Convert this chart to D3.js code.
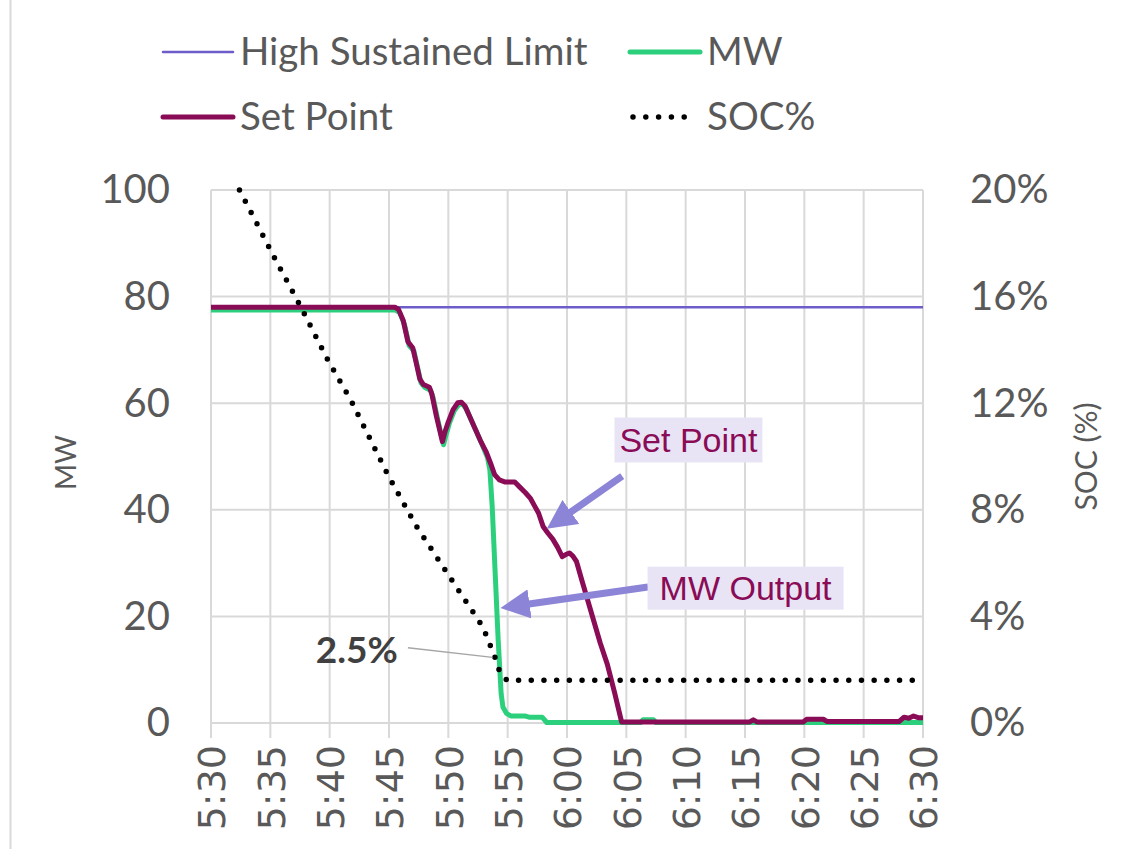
<!DOCTYPE html>
<html>
<head>
<meta charset="utf-8">
<script src="https://cdn.jsdelivr.net/npm/d3@7"></script>
<style>
  html, body { margin: 0; padding: 0; background: #fff; }
  svg { display: block; }
</style>
</head>
<body>
<svg id="chart" width="1127" height="849"></svg>
<script>
// ---- data ----
const xTickLabels = ["5:30","5:35","5:40","5:45","5:50","5:55","6:00","6:05","6:10","6:15","6:20","6:25","6:30"];
const mwTicks = [0, 20, 40, 60, 80, 100];
const socTicks = [0, 4, 8, 12, 16, 20];

const highSustainedLimitTime = ["5:30:00", "6:30:00"];
const highSustainedLimitMW = [78, 78];

const setPointTime = ["5:30:00","5:45:30","5:45:48","5:46:12","5:46:36","5:47:00","5:47:18","5:47:36","5:47:54","5:48:24",
  "5:48:36","5:49:00","5:49:30","5:49:42","5:50:00","5:50:24","5:50:48","5:51:06","5:51:24","5:51:48",
  "5:52:12","5:52:42","5:53:12","5:53:36","5:53:54","5:54:18","5:54:48","5:55:36","5:56:00","5:56:30",
  "5:56:54","5:57:18","5:57:36","5:58:00","5:58:24","5:58:48","5:59:12","5:59:36","5:59:54","6:00:12",
  "6:00:30","6:00:48","6:01:18","6:01:48","6:02:18","6:02:48","6:03:24","6:04:00","6:04:36","6:15:24",
  "6:15:42","6:16:00","6:19:54","6:20:12","6:21:36","6:21:54","6:28:00","6:28:24","6:28:48","6:29:12",
  "6:29:36","6:30:00"];
const setPointMW = [78.0,78.0,77.6,75.5,71.5,70.4,67.5,64.5,63.5,63.0,
  61.8,57.5,52.8,54.5,56.5,58.8,60.1,60.2,59.5,57.5,
  55.5,53.0,50.8,48.5,46.6,45.6,45.2,45.2,44.3,43.2,
  42.2,40.6,39.4,36.8,35.6,34.5,33.0,31.2,31.6,31.9,
  31.3,30.3,26.4,22.6,18.8,15.0,11.0,5.8,0.2,0.2,
  0.6,0.2,0.2,0.7,0.7,0.3,0.3,1.1,0.9,1.3,
  1.0,1.0];

const outputTime = ["5:30:00","5:45:30","5:45:54","5:46:18","5:46:42","5:47:06","5:47:24","5:47:42","5:48:00","5:48:30",
  "5:48:42","5:49:06","5:49:36","5:49:48","5:50:06","5:50:30","5:50:54","5:51:12","5:51:30","5:51:54",
  "5:52:18","5:52:48","5:53:18","5:53:30","5:53:42","5:53:57","5:54:12","5:54:27","5:54:36","5:54:54",
  "5:55:18","5:56:30","5:56:48","5:57:54","5:58:18","6:06:12","6:06:24","6:07:18","6:07:30","6:30:00"];
const outputMW = [77.5,77.5,77.0,74.8,70.8,69.8,66.8,63.8,63.0,62.4,
  61.2,57.0,52.2,54.0,56.3,58.6,59.8,59.8,59.0,57.0,
  55.0,52.5,49.8,47.5,40.5,28.0,15.6,5.5,3.0,1.8,
  1.3,1.3,1.1,1.1,0.1,0.1,0.6,0.6,0.1,0.1];

const socTime = ["5:32:24","5:35:18","5:37:35","5:39:52","5:41:48","5:44:55","5:47:17","5:50:23","5:52:55","5:53:54",
  "5:54:21","5:54:56","6:30:00"];
const socPct = [20.0,17.5,15.6,13.6,12.1,9.3,7.4,5.3,3.6,2.5,
  1.9,1.6,1.6];

// ---- layout ----
const parseTime = d3.timeParse("%H:%M:%S");
const plot = { left: 211, right: 923, top: 190, bottom: 723 };

const x = d3.scaleTime()
  .domain([parseTime("5:30:00"), parseTime("6:30:00")])
  .range([plot.left, plot.right]);
const y = d3.scaleLinear().domain([0, 100]).range([plot.bottom, plot.top]);
const ySoc = d3.scaleLinear().domain([0, 20]).range([plot.bottom, plot.top]);

const colors = {
  limit: "#6C5DCB",
  output: "#2CD07C",
  setPoint: "#8A0B56",
  soc: "#000000",
  grid: "#D9D9D9",
  text: "#595959",
  callout: "#8C84D6",
  calloutFill: "#E8E4F5"
};

const svg = d3.select("#chart");
const font = "Lato, 'Open Sans', sans-serif";
const arial = "'Liberation Sans', Arial, sans-serif";

// outer frame edge
svg.append("line")
  .attr("x1", 10.5).attr("x2", 10.5).attr("y1", 0).attr("y2", 849)
  .attr("stroke", colors.grid).attr("stroke-width", 2);

// ---- gridlines ----
const xTickValues = xTickLabels.map(s => parseTime(s + ":00"));

svg.append("g")
  .selectAll("line")
  .data(mwTicks)
  .join("line")
  .attr("x1", plot.left).attr("x2", plot.right)
  .attr("y1", d => y(d)).attr("y2", d => y(d))
  .attr("stroke", colors.grid).attr("stroke-width", 2);

svg.append("g")
  .selectAll("line")
  .data(xTickValues)
  .join("line")
  .attr("x1", d => x(d)).attr("x2", d => x(d))
  .attr("y1", plot.top).attr("y2", plot.bottom + 15)
  .attr("stroke", colors.grid).attr("stroke-width", 2);

// ---- axes (labels only) ----
const xAxis = d3.axisBottom(x)
  .tickValues(xTickValues)
  .tickFormat((d, i) => xTickLabels[i])
  .tickSize(0);
const gx = svg.append("g")
  .attr("transform", `translate(0,${plot.bottom + 22})`)
  .call(xAxis);
gx.select(".domain").remove();
gx.selectAll("text")
  .attr("transform", "rotate(-90)")
  .attr("x", 0).attr("y", 0).attr("dy", "0.36em")
  .attr("text-anchor", "end")
  .attr("fill", colors.text)
  .style("font-family", "'DejaVu Sans', sans-serif").style("font-size", "38px");

const yAxis = d3.axisLeft(y).tickValues(mwTicks).tickSize(0).tickPadding(0);
const gy = svg.append("g")
  .attr("transform", `translate(${plot.left - 41},0)`)
  .call(yAxis);
gy.select(".domain").remove();
gy.selectAll("text")
  .attr("fill", colors.text)
  .style("font-family", font).style("font-size", "40px");

const ySocAxis = d3.axisRight(ySoc).tickValues(socTicks).tickSize(0).tickPadding(0)
  .tickFormat(d => d + "%");
const gys = svg.append("g")
  .attr("transform", `translate(${plot.right + 47},0)`)
  .call(ySocAxis);
gys.select(".domain").remove();
gys.selectAll("text")
  .attr("fill", colors.text)
  .style("font-family", font).style("font-size", "40px");

// axis titles
svg.append("text")
  .attr("transform", `translate(66,${(plot.top + plot.bottom) / 2 + 6}) rotate(-90)`)
  .attr("text-anchor", "middle").attr("dy", "0.35em")
  .attr("fill", colors.text)
  .style("font-family", font).style("font-size", "28px")
  .text("MW");

svg.append("text")
  .attr("transform", `translate(1086,${(plot.top + plot.bottom) / 2}) rotate(-90)`)
  .attr("text-anchor", "middle").attr("dy", "0.35em")
  .attr("fill", colors.text)
  .style("font-family", font).style("font-size", "30px")
  .text("SOC (%)");

// ---- series ----
const zip = (ts, vs) => ts.map((t, i) => ({ t: parseTime(t), v: vs[i] }));
const lineMW = d3.line().x(d => x(d.t)).y(d => y(d.v));
const lineSoc = d3.line().x(d => x(d.t)).y(d => ySoc(d.v));

svg.append("path")
  .datum(zip(highSustainedLimitTime, highSustainedLimitMW))
  .attr("d", lineMW)
  .attr("fill", "none").attr("stroke", colors.limit).attr("stroke-width", 2.5);

svg.append("path")
  .datum(zip(outputTime, outputMW))
  .attr("d", lineMW)
  .attr("fill", "none").attr("stroke", colors.output).attr("stroke-width", 5)
  .attr("stroke-linejoin", "round");

svg.append("path")
  .datum(zip(setPointTime, setPointMW))
  .attr("d", lineMW)
  .attr("fill", "none").attr("stroke", colors.setPoint).attr("stroke-width", 5)
  .attr("stroke-linejoin", "round");

const socData = zip(socTime, socPct);
svg.append("path")
  .datum(socData)
  .attr("d", lineSoc)
  .attr("fill", "none").attr("stroke", colors.soc).attr("stroke-width", 5.5)
  .attr("stroke-linecap", "round").attr("stroke-dasharray", "0 12.7");

// ---- annotations ----
// 2.5% SOC marker
const socMark = socData.find(d => d.v === 2.5);
const markX = x(socMark.t), markY = ySoc(socMark.v);
const labelAt = { t: parseTime("5:45:45"), v: 13.0 };
svg.append("line")
  .attr("x1", x(labelAt.t) + 10).attr("y1", y(labelAt.v) - 6)
  .attr("x2", markX - 2).attr("y2", markY + 1)
  .attr("stroke", "#A6A6A6").attr("stroke-width", 1.5);
svg.append("text")
  .attr("x", x(labelAt.t)).attr("y", y(labelAt.v) + 9)
  .attr("text-anchor", "end")
  .attr("fill", "#404040")
  .style("font-family", font).style("font-size", "37px").style("font-weight", "bold")
  .text(socMark.v + "%");

// arrow callouts
const defs = svg.append("defs");
defs.append("marker")
  .attr("id", "arrowHead")
  .attr("viewBox", "0 0 10 10")
  .attr("refX", 2).attr("refY", 5)
  .attr("markerWidth", 4.2).attr("markerHeight", 4.2)
  .attr("markerUnits", "strokeWidth")
  .attr("orient", "auto")
  .append("path").attr("d", "M0,0 L10,5 L0,10 Z").attr("fill", colors.callout);

function callout(label, center, boxW, boxH, from, to) {
  const cx = x(center.t), cy = y(center.v);
  const x1 = x(from.t), y1 = y(from.v);
  const x2 = x(to.t), y2 = y(to.v);
  // shorten the shaft so the arrow head tip lands on the target
  const len = Math.hypot(x2 - x1, y2 - y1);
  const back = 22;
  svg.append("line")
    .attr("x1", x1).attr("y1", y1)
    .attr("x2", x2 - (x2 - x1) / len * back).attr("y2", y2 - (y2 - y1) / len * back)
    .attr("stroke", colors.callout).attr("stroke-width", 7)
    .attr("marker-end", "url(#arrowHead)");
  svg.append("rect")
    .attr("x", cx - boxW / 2).attr("y", cy - boxH / 2)
    .attr("width", boxW).attr("height", boxH)
    .attr("fill", colors.calloutFill);
  svg.append("text")
    .attr("x", cx).attr("y", cy).attr("dy", "0.36em")
    .attr("text-anchor", "middle")
    .attr("fill", colors.setPoint)
    .style("font-family", arial).style("font-size", "34px")
    .text(label);
}

callout("Set Point",
  { t: parseTime("6:10:14"), v: 53.1 }, 148, 45,
  { t: parseTime("6:04:39"), v: 46.3 }, { t: parseTime("5:58:24"), v: 36.6 });
callout("MW Output",
  { t: parseTime("6:15:03"), v: 25.3 }, 196, 43,
  { t: parseTime("6:06:50"), v: 25.5 }, { t: parseTime("5:54:31"), v: 21.6 });

// ---- legend ----
const legendItems = [
  { label: "High Sustained Limit", color: colors.limit, width: 2.5, dots: false, x: 163, y: 52 },
  { label: "MW", color: colors.output, width: 5, dots: false, x: 630, y: 52 },
  { label: "Set Point", color: colors.setPoint, width: 5, dots: false, x: 163, y: 117 },
  { label: "SOC%", color: colors.soc, width: 5.5, dots: true, x: 630, y: 117 }
];
const lg = svg.append("g").selectAll("g").data(legendItems).join("g")
  .attr("transform", d => `translate(${d.x},${d.y})`);
lg.append("line")
  .attr("x1", d => d.dots ? 3 : 0).attr("x2", d => d.dots ? 67 : 70)
  .attr("y1", 0).attr("y2", 0)
  .attr("stroke", d => d.color).attr("stroke-width", d => d.width)
  .attr("stroke-linecap", "round")
  .attr("stroke-dasharray", d => d.dots ? "0 12.8" : null);
lg.append("text")
  .attr("x", 77).attr("y", 0).attr("dy", "0.35em")
  .attr("fill", colors.text)
  .style("font-family", font).style("font-size", "38.5px")
  .text(d => d.label);
</script>
</body>
</html>
